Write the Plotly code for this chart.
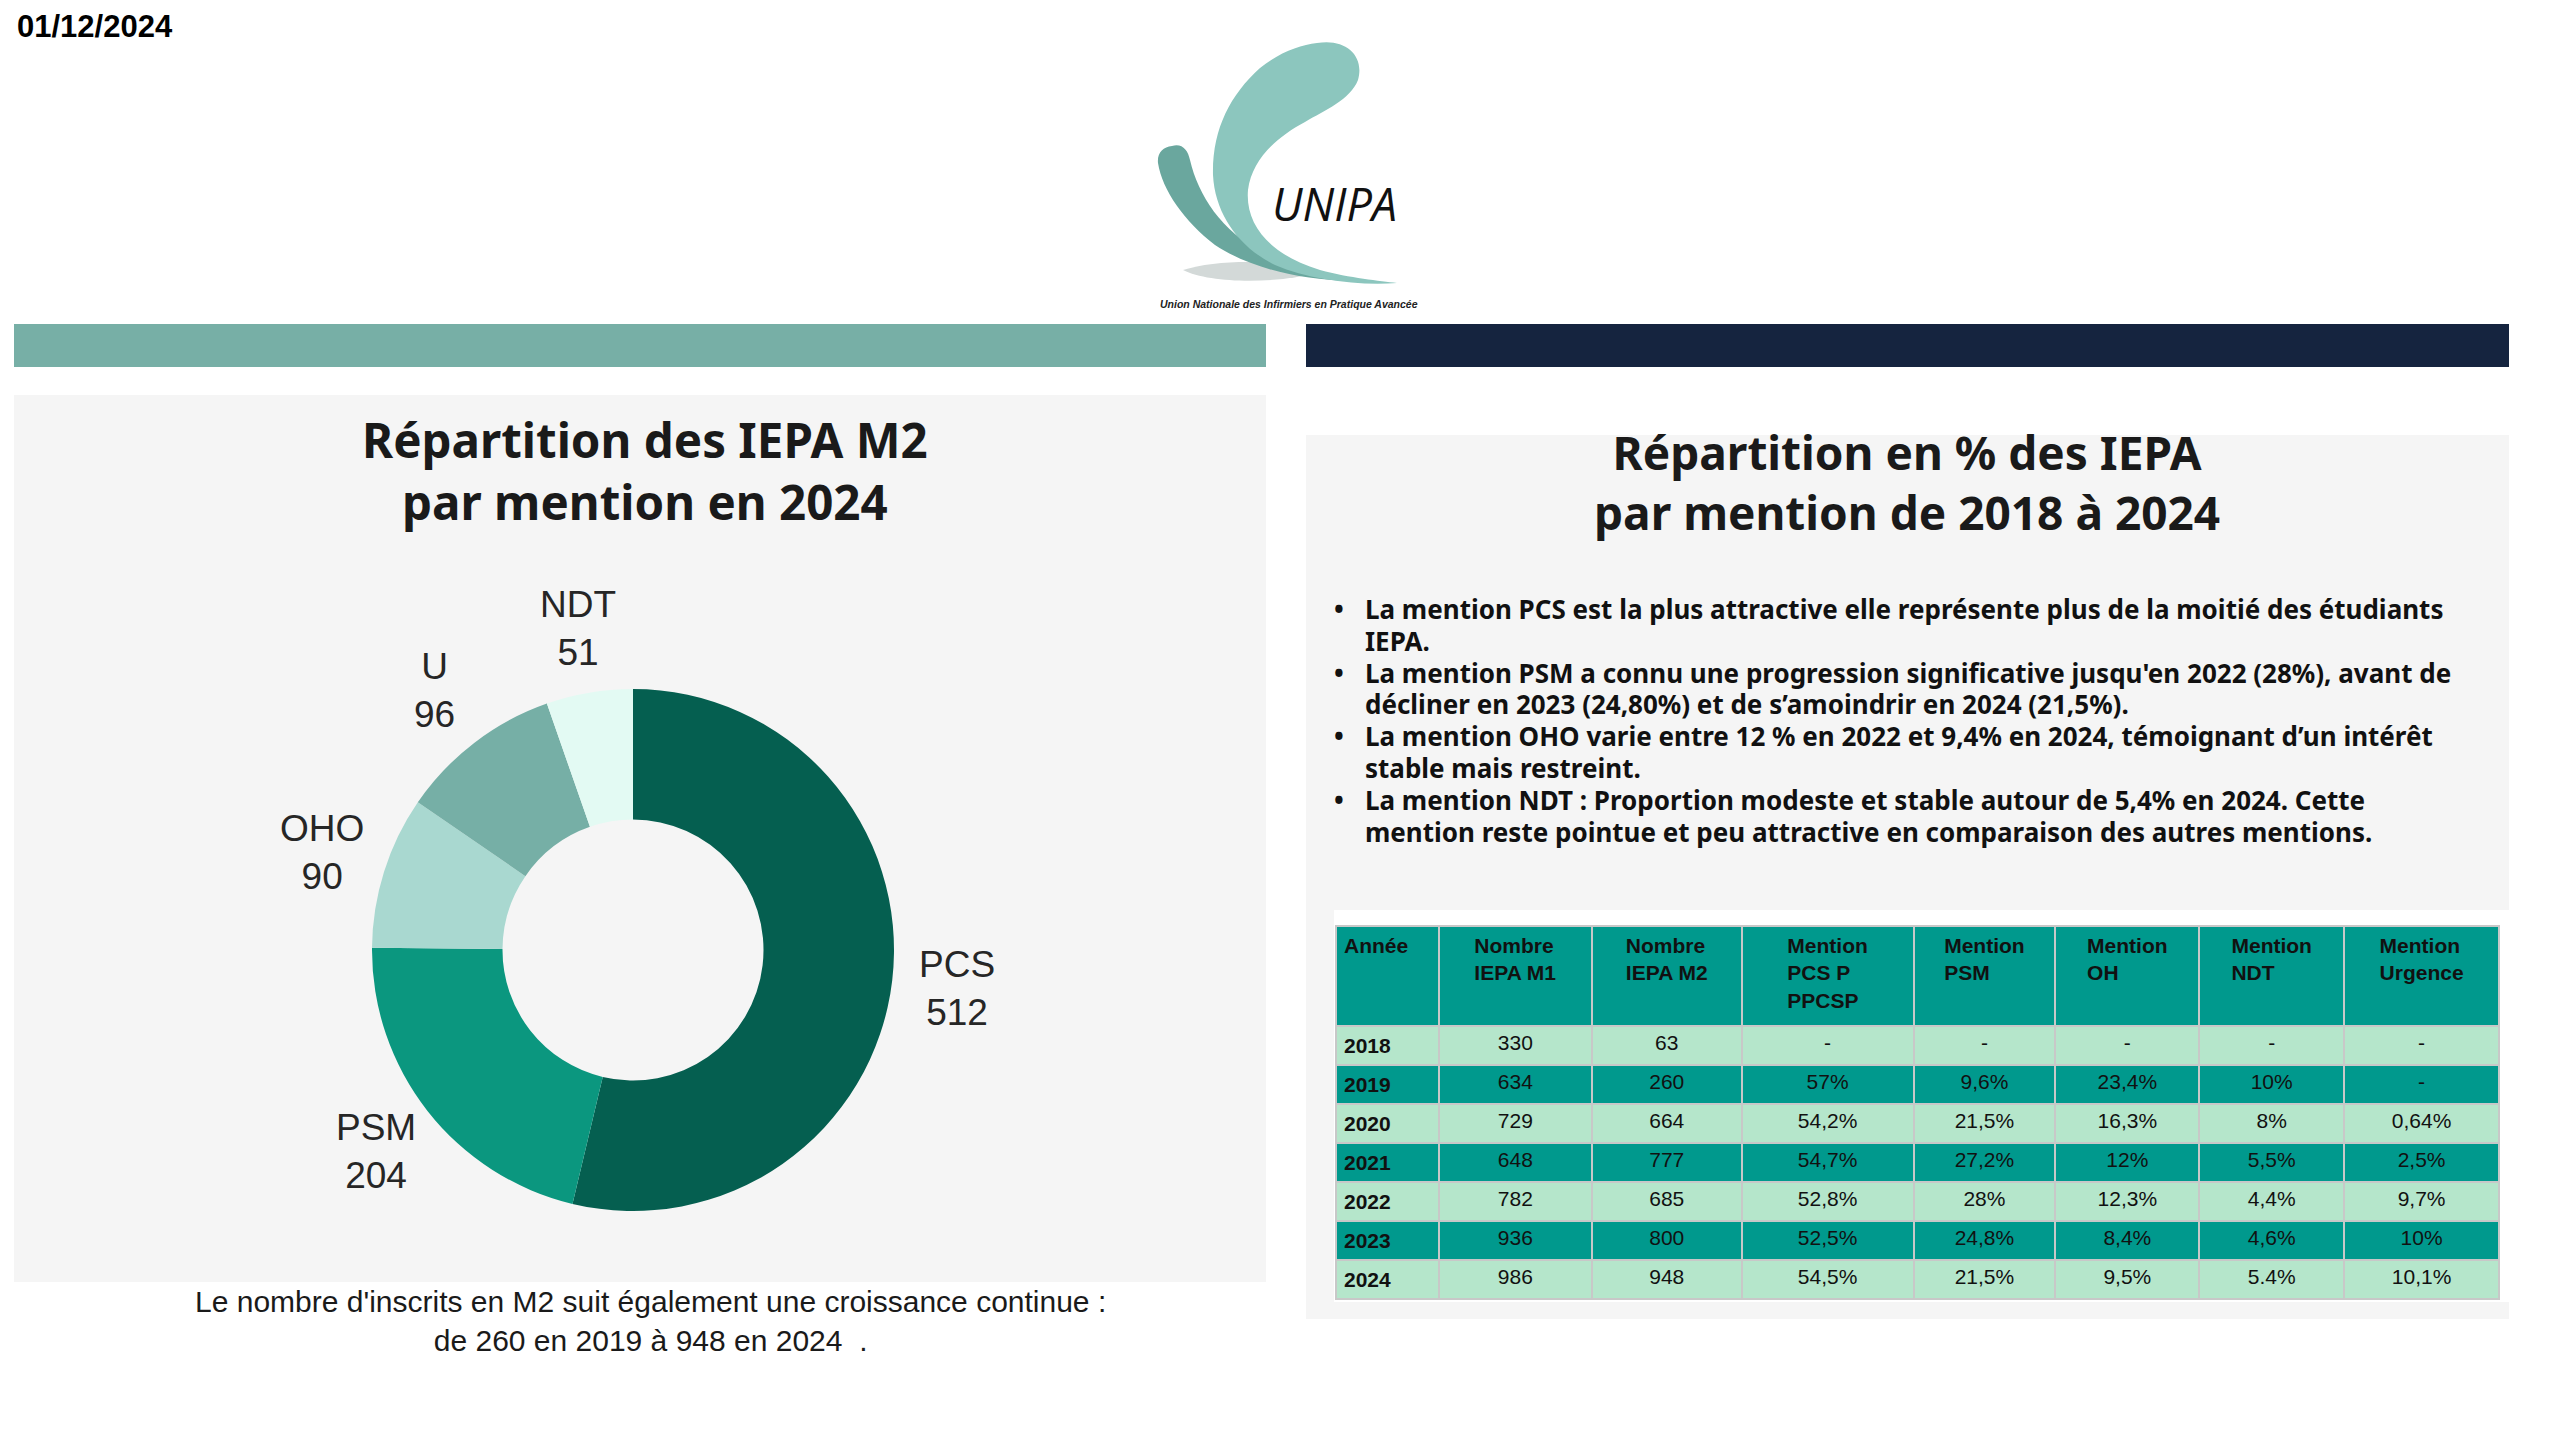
import math
import re
import plotly.graph_objects as go

# --- data ---------------------------------------------------------------
mentions = ["PCS", "PSM", "OHO", "U", "NDT"]
effectifs_m2_2024 = [512, 204, 90, 96, 51]
couleurs_mentions = ["#055F50", "#0B977F", "#A9D8D0", "#76AFA6", "#E3FAF3"]

annees = ["2018", "2019", "2020", "2021", "2022", "2023", "2024"]
iepa_m1 = ["330", "634", "729", "648", "782", "936", "986"]
iepa_m2 = ["63", "260", "664", "777", "685", "800", "948"]
pct_pcs = ["-", "57%", "54,2%", "54,7%", "52,8%", "52,5%", "54,5%"]
pct_psm = ["-", "9,6%", "21,5%", "27,2%", "28%", "24,8%", "21,5%"]
pct_oh = ["-", "23,4%", "16,3%", "12%", "12,3%", "8,4%", "9,5%"]
pct_ndt = ["-", "10%", "8%", "5,5%", "4,4%", "4,6%", "5.4%"]
pct_urgence = ["-", "-", "0,64%", "2,5%", "9,7%", "10%", "10,1%"]

entetes = ["Année", "Nombre<br>IEPA M1", "Nombre<br>IEPA M2", "Mention<br>PCS P<br>PPCSP",
           "Mention<br>PSM", "Mention<br>OH", "Mention<br>NDT", "Mention<br>Urgence"]
largeurs_col = [103, 153, 150, 172, 142, 144, 145, 155]

puces = [
    "La mention PCS est la plus attractive elle représente plus de la moitié des étudiants",
    "IEPA.",
    "La mention PSM a connu une progression significative jusqu'en 2022 (28%), avant de",
    "décliner en 2023 (24,80%) et de s\u2019amoindrir en 2024 (21,5%).",
    "La mention OHO varie entre 12 % en 2022 et 9,4% en 2024, témoignant d\u2019un intérêt",
    "stable mais restreint.",
    "La mention NDT : Proportion modeste et stable autour de 5,4% en 2024. Cette",
    "mention reste pointue et peu attractive en comparaison des autres mentions.",
]
debut_puce = [True, False, True, False, True, False, True, False]

W, H = 2560, 1440
TITLE_FONT = "'Noto Sans', 'Open Sans', sans-serif"
BODY_FONT = "'Liberation Sans', Arial, sans-serif"
TABLE_FONT = "'Liberation Sans Narrow', 'Arial Narrow', 'Liberation Sans', sans-serif"


def px_x(x):
    return x / W


def px_y(y):
    return 1 - y / H


def shift_path(path, dx=-8, dy=-8):
    # logo outline was traced in screen pixels; move it into figure pixels
    return re.sub(r"(-?\d+),(-?\d+)", lambda m: "%d,%d" % (int(m.group(1)) + dx, int(m.group(2)) + dy), path)


fig = go.Figure()

# donut chart
cx, cy, r = 625, 942, 261
fig.add_trace(go.Pie(
    labels=mentions,
    values=effectifs_m2_2024,
    hole=0.5,
    sort=False,
    direction="clockwise",
    rotation=0,
    marker=dict(colors=couleurs_mentions, line=dict(width=0)),
    textinfo="none",
    hoverinfo="label+value",
    showlegend=False,
    domain=dict(x=[px_x(cx - r), px_x(cx + r)], y=[px_y(cy + r), px_y(cy - r)]),
))

# table
clair, fonce = "#B5E6CB", "#00998D"
fills = [clair if i % 2 == 0 else fonce for i in range(len(annees))]
fig.add_trace(go.Table(
    columnwidth=largeurs_col,
    header=dict(
        values=["<b>%s</b>" % h for h in entetes],
        fill_color=fonce,
        line=dict(color="#C8C8C8", width=2),
        align=["left"] + ["center"] * 7,
        font=dict(family=TABLE_FONT, size=21, color="#111111"),
        height=100,
    ),
    cells=dict(
        values=[["<b>%s</b>" % a for a in annees], iepa_m1, iepa_m2, pct_pcs,
                pct_psm, pct_oh, pct_ndt, pct_urgence],
        fill_color=[fills] * 8,
        line=dict(color="#C8C8C8", width=2),
        align=["left"] + ["center"] * 7,
        font=dict(family=TABLE_FONT, size=21, color="#111111"),
        height=37,
    ),
    domain=dict(x=[px_x(1328), px_x(2492)], y=[px_y(1320), px_y(918)]),
))

shapes = []


def rect(x0, y0, x1, y1, color):
    shapes.append(dict(type="rect", xref="x", yref="y", x0=x0, y0=y0, x1=x1, y1=y1,
                       fillcolor=color, line=dict(width=0), layer="below"))


rect(6, 316, 1258, 359, "#77AFA6")
rect(1298, 316, 2501, 359, "#15243F")
rect(6, 387, 1258, 1274, "#F5F5F5")
rect(1298, 427, 2501, 1311, "#F5F5F5")
rect(1326, 902, 2501, 1294, "#FFFFFF")

# logo (rough swooshes)
logo_paths = [
    ("#D3D9D8", "M 1183,270 C 1220,258 1290,260 1318,272 C 1280,284 1210,284 1183,270 Z"),
    ("#6AA79E", "M 1172,146 C 1182,143 1188,150 1190,160 C 1198,195 1222,232 1262,252 "
                "C 1290,266 1320,275 1350,281 C 1300,280 1250,268 1215,245 "
                "C 1185,222 1162,190 1158,163 C 1157,153 1163,147 1172,146 Z"),
    ("#8CC6BE", "M 1317,43 C 1345,38 1365,55 1358,80 C 1350,100 1325,110 1305,122 "
                "C 1275,138 1252,160 1248,190 C 1245,225 1270,255 1320,270 "
                "C 1350,278 1380,281 1397,283 C 1360,286 1310,280 1275,265 "
                "C 1240,248 1215,215 1213,175 C 1212,130 1230,95 1260,68 "
                "C 1280,52 1300,45 1317,43 Z"),
]
for couleur, p in logo_paths:
    shapes.append(dict(type="path", xref="x", yref="y", layer="below", line=dict(width=0),
                       fillcolor=couleur, path=shift_path(p)))

annotations = [
    dict(x=7, y=18, text="<b>01/12/2024</b>", xanchor="left", yanchor="middle",
         font=dict(family=BODY_FONT, size=31, color="#000000")),
    dict(x=1326, y=195, text="<i>UNIPA</i>", xanchor="center", yanchor="middle",
         font=dict(family="'Open Sans', sans-serif", size=45, color="#111111")),
    dict(x=1281, y=296, text="<b><i>Union Nationale des Infirmiers en Pratique Avancée</i></b>",
         xanchor="center", yanchor="middle",
         font=dict(family=BODY_FONT, size=10.5, color="#222222")),
    dict(x=637, y=462, text="<b>Répartition des IEPA M2<br>par mention en 2024</b>",
         xanchor="center", yanchor="middle",
         font=dict(family=TITLE_FONT, size=47.5, color="#1A1A1A")),
    dict(x=1899, y=474, text="<b>Répartition en % des IEPA<br>par mention de 2018 à 2024</b>",
         xanchor="center", yanchor="middle",
         font=dict(family=TITLE_FONT, size=46, color="#1A1A1A")),
    dict(x=642, y=1313, text="Le nombre d'inscrits en M2 suit également une croissance continue :"
                             "<br>de 260 en 2019 à 948 en 2024  .",
         xanchor="center", yanchor="middle",
         font=dict(family=BODY_FONT, size=30, color="#1A1A1A")),
]

# donut labels, placed along each slice's mid-angle
total = sum(effectifs_m2_2024)
cumul = 0
for lab, val in zip(mentions, effectifs_m2_2024):
    theta = 2 * math.pi * (cumul + val / 2) / total
    cumul += val
    annotations.append(dict(x=cx + 1.25 * r * math.sin(theta), y=cy - 1.25 * r * math.cos(theta),
                            text="%s<br>%d" % (lab, val), xanchor="center", yanchor="middle",
                            font=dict(family=BODY_FONT, size=37, color="#262626")))

# bullet text, one line per annotation
for i, (ligne, puce) in enumerate(zip(puces, debut_puce)):
    y = 601 + i * 31.8
    annotations.append(dict(x=1356, y=y, text="<b>%s</b>" % ligne, xanchor="left", yanchor="middle",
                            borderpad=0,
                            font=dict(family=TITLE_FONT, size=26, color="#111111")))
    if puce:
        annotations.append(dict(x=1331, y=y, text="<b>•</b>", xanchor="center", yanchor="middle",
                                borderpad=0,
                                font=dict(family=TITLE_FONT, size=26, color="#111111")))

for a in annotations:
    a.update(xref="x", yref="y", showarrow=False)

fig.update_layout(
    width=W, height=H,
    margin=dict(l=0, r=0, t=0, b=0),
    paper_bgcolor="#FFFFFF",
    plot_bgcolor="rgba(0,0,0,0)",
    xaxis=dict(range=[0, W], visible=False, fixedrange=True, domain=[0, 1]),
    yaxis=dict(range=[H, 0], visible=False, fixedrange=True, domain=[0, 1]),
    shapes=shapes,
    annotations=annotations,
)

fig.write_html("out.html")
